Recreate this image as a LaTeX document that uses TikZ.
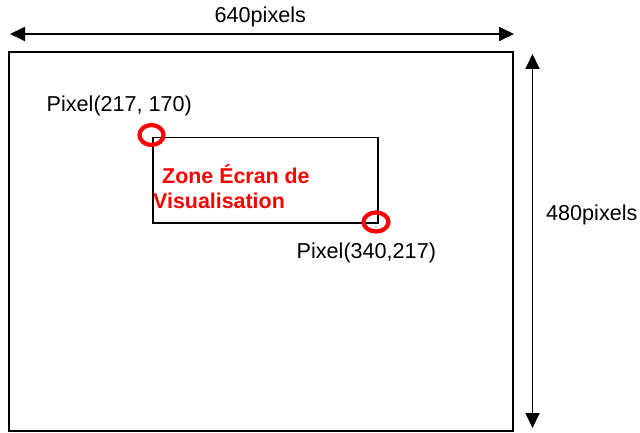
\documentclass[tikz,border=0pt]{standalone}
\usepackage{fontspec}
\setmainfont{Liberation Sans}
\usetikzlibrary{arrows.meta,shapes.geometric}
\begin{document}
\begin{tikzpicture}[x=1pt,y=-1pt,
  lbl/.style={inner sep=0pt,anchor=base west,font=\fontsize{21.6}{25}\selectfont},
  redlbl/.style={lbl,text=red,font=\fontsize{21.4}{25}\selectfont\bfseries},
  outerbox/.style={draw=black,line width=2pt},
  zonebox/.style={draw=black,line width=1.5pt,inner sep=0pt,minimum width=225pt,minimum height=85pt,anchor=north west},
  dimarrow/.style={line width=1.8pt,{Triangle[length=15pt,width=14pt]}-{Triangle[length=15pt,width=14pt]}},
  marker/.style={draw=red,line width=4.2pt,ellipse,inner sep=0pt,minimum width=24pt,minimum height=20pt}]
\useasboundingbox (0,0) rectangle (640,433);
\fill[white] (0,0) rectangle (640,433);
% outer screen
\coordinate (oTL) at (8.5,52.5);
\coordinate (oBR) at (512.5,431);
\draw[outerbox] (oTL) rectangle (oBR);
% dimension arrows
\coordinate (hL) at (10,34);
\coordinate (hR) at (514,34);
\draw[dimarrow] (hL) -- (hR);
\coordinate (vT) at (532.5,54);
\coordinate (vB) at (532.5,428);
\draw[dimarrow] (vT) -- (vB);
\node[lbl] (wlabel) at (214.5,23) {640pixels};
\node[lbl] (hlabel) at (546,220) {480pixels};
% viewing zone
\node[zonebox] (zone) at (152,137) {};
\node[marker] (mTL) at (151.5,135) {};
\node[marker,minimum width=25pt,minimum height=19pt] (mBR) at (376,222) {};
\node[lbl] (pTL) at (46.5,111.5) {Pixel(217, 170)};
\node[lbl] (pBR) at (296.5,258) {Pixel(340,217)};
\node[redlbl] (z1) at (162,183) {Zone Écran de};
\node[redlbl] (z2) at (153,208) {Visualisation};
\end{tikzpicture}
\end{document}
